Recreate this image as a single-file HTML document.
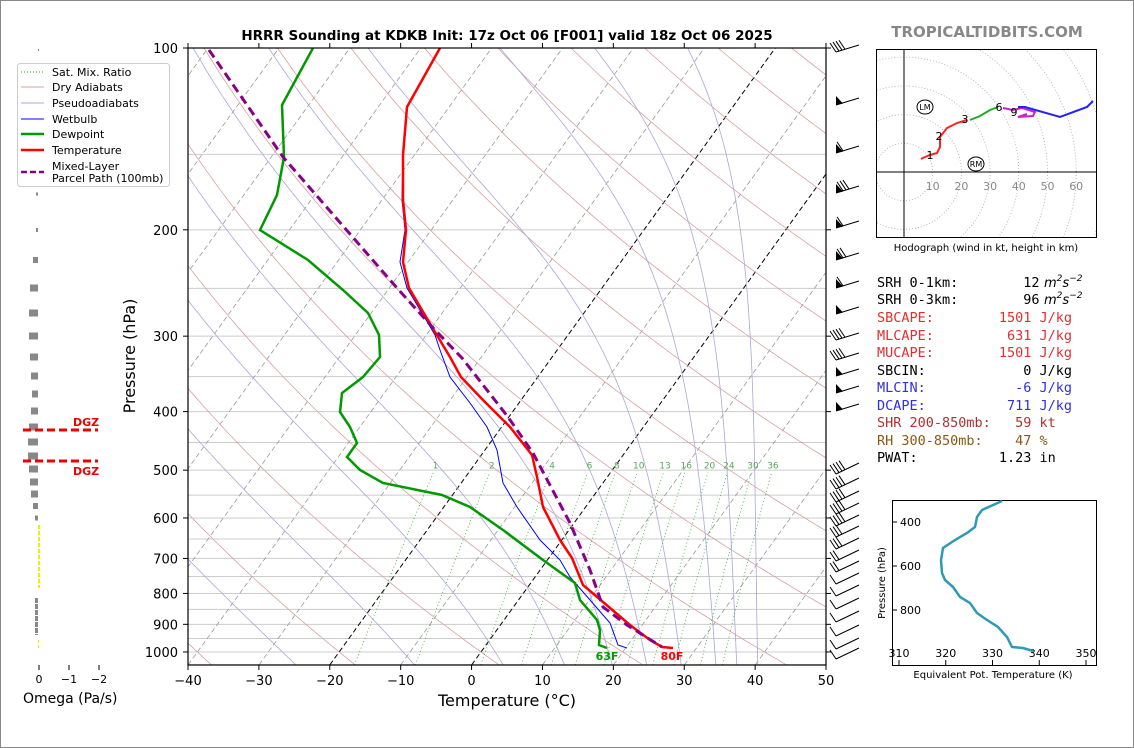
<!DOCTYPE html>
<html><head><meta charset="utf-8"><style>
html,body{margin:0;padding:0;background:#fff}
svg{display:block}
text{font-family:"DejaVu Sans","Liberation Sans",sans-serif}
text.mono{font-family:"DejaVu Sans Mono","Liberation Mono",monospace}
</style></head><body>
<svg id="s" width="1134" height="748" xmlns="http://www.w3.org/2000/svg">
<rect x="0.5" y="0.5" width="1133" height="747" fill="#fff" stroke="#888"/>
<defs><clipPath id="cp"><rect x="188" y="48" width="638" height="617"/></clipPath>
<clipPath id="ch"><rect x="876" y="49" width="220" height="188"/></clipPath></defs>
<g id="bg" clip-path="url(#cp)"></g>
<g id="fg"></g>
<text x="507" y="40" font-size="13.5" font-weight="bold" text-anchor="middle">HRRR Sounding at KDKB Init: 17z Oct 06 [F001] valid 18z Oct 06 2025</text>
<text x="987" y="37" font-size="15" font-weight="bold" fill="#888" text-anchor="middle">TROPICALTIDBITS.COM</text>
<text x="507" y="706" font-size="16" text-anchor="middle">Temperature (°C)</text>
<text transform="translate(135,356) rotate(-90)" font-size="16" text-anchor="middle">Pressure (hPa)</text>
<!-- legend -->
<rect x="17.5" y="63.5" width="152" height="123" rx="3" fill="#fff" stroke="#ccc"/>
<line x1="21" y1="72" x2="44" y2="72" stroke="#2a2" stroke-dasharray="1,2" stroke-width="1"/>
<line x1="21" y1="87" x2="44" y2="87" stroke="#d9a0a0"/>
<line x1="21" y1="103" x2="44" y2="103" stroke="#a8a8d8"/>
<line x1="21" y1="119" x2="44" y2="119" stroke="#00f"/>
<line x1="21" y1="134" x2="44" y2="134" stroke="#090" stroke-width="2.5"/>
<line x1="21" y1="150" x2="44" y2="150" stroke="#f00" stroke-width="2.5"/>
<line x1="21" y1="172" x2="44" y2="172" stroke="#808" stroke-width="2.5" stroke-dasharray="6,3"/>
<g font-size="11">
<text x="52" y="76">Sat. Mix. Ratio</text><text x="52" y="91">Dry Adiabats</text><text x="52" y="107">Pseudoadiabats</text>
<text x="52" y="123">Wetbulb</text><text x="52" y="138">Dewpoint</text><text x="52" y="154">Temperature</text>
<text x="52" y="170">Mixed-Layer</text><text x="52" y="182">Parcel Path (100mb)</text></g>
<!-- omega -->
<g font-size="11"><text x="39" y="683" text-anchor="middle">0</text><text x="69" y="683" text-anchor="middle">−1</text><text x="99" y="683" text-anchor="middle">−2</text></g>
<text x="23" y="703" font-size="14">Omega (Pa/s)</text>
<g stroke="#000"><line x1="39" y1="665" x2="39" y2="670"/><line x1="69" y1="665" x2="69" y2="670"/><line x1="99" y1="665" x2="99" y2="670"/></g>
<g stroke="#e00" stroke-width="3" stroke-dasharray="8,4"><line x1="23" y1="430" x2="98" y2="430"/><line x1="23" y1="461" x2="98" y2="461"/></g>
<g font-size="11" font-weight="bold" fill="#e00"><text x="73" y="426">DGZ</text><text x="73" y="475">DGZ</text></g>
<!-- text panel -->
<g font-size="13.5">
<text class="mono" x="877" y="287" fill="#000" xml:space="preserve">SRH 0-1km:        12</text>
<text class="mono" x="877" y="304" fill="#000" xml:space="preserve">SRH 0-3km:        96</text>
<text class="mono" x="877" y="322" fill="#e03030" xml:space="preserve">SBCAPE:        1501 J/kg</text>
<text class="mono" x="877" y="340" fill="#e03030" xml:space="preserve">MLCAPE:         631 J/kg</text>
<text class="mono" x="877" y="357" fill="#e03030" xml:space="preserve">MUCAPE:        1501 J/kg</text>
<text class="mono" x="877" y="375" fill="#000" xml:space="preserve">SBCIN:            0 J/kg</text>
<text class="mono" x="877" y="392" fill="#3030e0" xml:space="preserve">MLCIN:           -6 J/kg</text>
<text class="mono" x="877" y="410" fill="#3030e0" xml:space="preserve">DCAPE:          711 J/kg</text>
<text class="mono" x="877" y="427" fill="#b03030" xml:space="preserve">SHR 200-850mb:   59 kt</text>
<text class="mono" x="877" y="445" fill="#8b5a10" xml:space="preserve">RH 300-850mb:    47 %</text>
<text class="mono" x="877" y="462" fill="#000" xml:space="preserve">PWAT:          1.23 in</text>
</g>
<g font-size="13" font-style="italic"><text x="1044" y="287">m<tspan font-size="9" dy="-6">2</tspan><tspan dy="6">s</tspan><tspan font-size="9" dy="-6">−2</tspan></text>
<text x="1044" y="304">m<tspan font-size="9" dy="-6">2</tspan><tspan dy="6">s</tspan><tspan font-size="9" dy="-6">−2</tspan></text></g>
<!-- hodograph -->
<g id="hodo" clip-path="url(#ch)"></g>
<rect x="876.5" y="49.5" width="220" height="188" fill="none" stroke="#000"/>
<text x="986" y="251" font-size="10" text-anchor="middle">Hodograph (wind in kt, height in km)</text>
<!-- theta-e inset -->
<rect x="892.5" y="500.5" width="204" height="165" fill="none" stroke="#000"/>
<g id="inset"></g>
<text x="993" y="678" font-size="10" text-anchor="middle">Equivalent Pot. Temperature (K)</text>
<text transform="translate(885,583) rotate(-90)" font-size="10" text-anchor="middle">Pressure (hPa)</text>
</svg>
<script>
var NS="http://www.w3.org/2000/svg";
function el(par,tag,a,txt){var e=document.createElementNS(NS,tag);for(var k in a)e.setAttribute(k,a[k]);if(txt!=null)e.textContent=txt;par.appendChild(e);return e;}
var bg=document.getElementById('bg'),fg=document.getElementById('fg');
function Y(p){return 48+262.3*Math.log(p/100);}
function X(T,p){return 188+(T+40)*7.089+(665-Y(p))*0.722;}
function pts(a){return a.map(function(q){return q[0].toFixed(1)+','+q[1].toFixed(1)}).join(' ');}
for(var p=100;p<=1050;p+=50){el(bg,'line',{x1:188,x2:826,y1:Y(p),y2:Y(p),stroke:'#ccc','stroke-width':1});}
for(var T=-140;T<=50;T+=10){var a=[[X(T,1050),Y(1050)],[X(T,100),Y(100)]];
 var blk=(T==0||T==-20);el(bg,'polyline',{points:pts(a),fill:'none',stroke:blk?'#000':'#999','stroke-width':blk?1:0.8,'stroke-dasharray':'5,3'});}
for(var t0=-60;t0<=240;t0+=20){var th=t0+273.15,a=[];for(var p=1050;p>=100;p-=10){a.push([X(th*Math.pow(p/1000,0.2857)-273.15,p),Y(p)]);}
 el(bg,'polyline',{points:pts(a),fill:'none',stroke:'#d9a0a0','stroke-width':0.8});}
function es(T){return 6.112*Math.exp(17.67*T/(T+243.5));}
function dTdp(T,p){var Tk=T+273.15,rs=0.622*es(T)/(p-es(T));var Lv=2.501e6,Rd=287,Cp=1005;
 return (1/p)*(Rd*Tk+Lv*rs)/(Cp+Lv*Lv*rs*0.622/(Rd*Tk*Tk));}
[-45,-28,-11,2,11,18,23,28,33,36,39].forEach(function(t0){var a=[],T=t0,p;
 var b=[];var T2=t0;for(var pp=1000;pp<=1050;pp+=5){b.unshift([X(T2,pp),Y(pp)]);T2+=dTdp(T2,pp)*5;}
 a=b.slice(0,-1);for(p=1000;p>=100;p-=5){a.push([X(T,p),Y(p)]);T-=dTdp(T,p)*5;}
 el(bg,'polyline',{points:pts(a),fill:'none',stroke:'#a8a8d8','stroke-width':0.8});});
[1,2,4,6,8,10,13,16,20,24,30,36].forEach(function(w){var a=[];for(var p=1050;p>=505;p-=5){var e=w*p/(622+w),l=Math.log(e/6.112);var Td=243.5*l/(17.67-l);a.push([X(Td,p),Y(p)]);}
 el(bg,'polyline',{points:pts(a),fill:'none',stroke:'#3a3','stroke-width':0.8,'stroke-dasharray':'1,2.5'});
 var e=w*495/(622+w),l=Math.log(e/6.112),Td=243.5*l/(17.67-l);el(bg,'text',{x:X(Td,495),y:Y(495)+1,'font-size':9,fill:'#5a5','text-anchor':'middle'},String(w));});
var Tp=[[440,48],[407,107],[403,155],[403,200],[406,230],[403,262],[409,288],[432,327],[450,357],[461,377],[483,400],[510,427],[532,455],[537,477],[543,507],[560,540],[572,558],[583,585],[603,602],[630,625],[650,640],[662,647],[673,648]];
var Dp=[[313,48],[282,105],[284,157],[277,195],[260,230],[308,260],[343,290],[368,313],[379,335],[380,357],[363,377],[342,393],[340,412],[350,427],[357,443],[347,457],[360,470],[383,483],[442,495],[470,507],[503,530],[543,560],[575,583],[580,600],[597,620],[600,630],[599,645],[607,648]];
var Wp=[[407,107],[403,155],[402,200],[405,230],[400,262],[407,288],[435,335],[440,350],[450,377],[470,403],[487,427],[497,450],[503,483],[517,507],[540,540],[560,560],[570,577],[590,600],[610,623],[618,645],[627,648]];
var Pp=[[209,50],[283,157],[397,288],[435,330],[462,358],[508,417],[533,453],[570,523],[590,570],[603,607],[627,625],[662,647]];
var g=el(fg,'g',{'clip-path':'url(#cp)'});
el(g,'polyline',{points:pts(Wp),fill:'none',stroke:'#00f','stroke-width':1});
el(g,'polyline',{points:pts(Dp),fill:'none',stroke:'#090','stroke-width':2.5});
el(g,'polyline',{points:pts(Tp),fill:'none',stroke:'#f00','stroke-width':2.5});
el(g,'polyline',{points:pts(Pp),fill:'none',stroke:'#808','stroke-width':3,'stroke-dasharray':'9,5'});
el(fg,'text',{x:607,y:660,'font-size':11,'font-weight':'bold',fill:'#090','text-anchor':'middle'},'63F');
el(fg,'text',{x:672,y:660,'font-size':11,'font-weight':'bold',fill:'#f00','text-anchor':'middle'},'80F');
el(fg,'rect',{x:188,y:48,width:638,height:617,fill:'none',stroke:'#000','stroke-width':1.2});
for(var T=-40;T<=50;T+=10){var x=188+(T+40)*7.089;el(fg,'line',{x1:x,x2:x,y1:665,y2:670,stroke:'#000'});
 el(fg,'line',{x1:x,x2:x,y1:48,y2:43,stroke:'#000'});
 el(fg,'text',{x:x,y:685,'font-size':13,'text-anchor':'middle'},(T<0?'−'+(-T):T));}
[100,200,300,400,500,600,700,800,900,1000].forEach(function(p){var y=Y(p);el(fg,'line',{x1:183,x2:188,y1:y,y2:y,stroke:'#000'});
 el(fg,'line',{x1:826,x2:831,y1:y,y2:y,stroke:'#000'});
 el(fg,'text',{x:178,y:y+5,'font-size':13,'text-anchor':'end'},p);});
var B=[[48,'4'],[105,'F'],[153,'F1'],[193,'F3'],[228,'F1'],[260,'F2'],[288,'F1'],[314,'F'],[336,'4'],[356,'4'],[376,'F'],[393,'F'],[411,'F'],[470,'4'],[485,'4'],[498,'4'],[510,'4'],[522,'4'],[533,'3'],[545,'3'],[557,'2'],[568,'2'],[580,'1'],[592,'1'],[605,'1'],[618,'1'],[632,'1'],[645,'1'],[655,'1']];
B.forEach(function(b){var y=b[1][0]=='F'?b[0]:b[0]+4,k=b[1];var x0=836,dy=(y<420)?-7:-11;
 el(fg,'line',{x1:x0,y1:y,x2:859,y2:y+dy,stroke:'#000','stroke-width':1});
 var n=0,st=0;if(k[0]=='F'){el(fg,'polygon',{points:x0+','+y+' '+(x0+7)+','+(y-1.5)+' '+x0+','+(y-9),fill:'#000'});n=k.length>1?+k[1]:0;st=7;}else{n=+k;}
 for(var i=0;i<n;i++){var sx=x0+st+i*3,sy=y+(dy/23)*(st+i*3);el(fg,'line',{x1:sx,y1:sy,x2:sx-6,y2:sy-9,stroke:'#000','stroke-width':1});}});
var O=[[50,38,39,2],[194,36,38,3],[230,36,38,4],[260,33,38,6],[288,30,38,7],[313,29,38,7],[336,29,38,7],[357,30,38,7],[376,31,38,7],[394,32,38,7],[411,31,38,7],[427,29,38,7],[442,28,38,7],[456,28,38,7],[469,29,38,7],[482,30,38,7],[494,31,38,7],[506,33,38,6],[518,35,38,5]];
O.forEach(function(o){el(fg,'rect',{x:o[1],y:o[0]-o[3]/2,width:o[2]-o[1],height:o[3],fill:'#888'});});
el(fg,'line',{x1:39,y1:525,x2:39,y2:588,stroke:'#ee0','stroke-width':2,'stroke-dasharray':'4,2'});
el(fg,'line',{x1:36.5,y1:598,x2:36.5,y2:635,stroke:'#888','stroke-width':3,'stroke-dasharray':'5,1'});
el(fg,'line',{x1:38.5,y1:640,x2:38.5,y2:650,stroke:'#ee0','stroke-width':1,'stroke-dasharray':'3,2'});
var h=document.getElementById('hodo');var ox=904,oy=172,sc=2.87;
for(var r=10;r<=90;r+=10)el(h,'circle',{cx:ox,cy:oy,r:r*sc,fill:'none',stroke:'#aaa','stroke-width':0.8,'stroke-dasharray':'1,2'});
el(h,'line',{x1:876,x2:1096,y1:oy,y2:oy,stroke:'#000'});el(h,'line',{x1:ox,x2:ox,y1:49,y2:237,stroke:'#000'});
for(var r=10;r<=60;r+=10)el(h,'text',{x:ox+r*sc,y:oy+18,'font-size':11,fill:'#888','text-anchor':'middle'},r);
el(h,'polyline',{points:pts([[921,159],[925,157],[930,155],[937,153],[940,147],[940,137],[947,128],[957,123],[967,120]]),fill:'none',stroke:'#f22','stroke-width':2});
el(h,'polyline',{points:pts([[970,120],[980,116],[990,110],[998,107]]),fill:'none',stroke:'#2a2','stroke-width':2});
el(h,'polyline',{points:pts([[1003,108],[1013,110],[1022,108],[1035,112],[1033,116],[1018,117],[1027,114]]),fill:'none',stroke:'#c2c','stroke-width':2});
el(h,'polyline',{points:pts([[1018,107],[1025,107],[1060,117],[1087,107],[1093,101]]),fill:'none',stroke:'#22f','stroke-width':2});
[[930,155,'1'],[939,136,'2'],[965,119,'3'],[999,107,'6'],[1014,112,'9']].forEach(function(q){el(h,'text',{x:q[0],y:q[1]+4,'font-size':11,'text-anchor':'middle'},q[2]);});
el(h,'ellipse',{cx:925,cy:107,rx:8,ry:7,fill:'none',stroke:'#000'});el(h,'text',{x:925,y:110,'font-size':8,'text-anchor':'middle'},'LM');
el(h,'ellipse',{cx:976,cy:164,rx:8,ry:7,fill:'none',stroke:'#000'});el(h,'text',{x:976,y:167,'font-size':8,'text-anchor':'middle'},'RM');
var ins=document.getElementById('inset');
[310,320,330,340,350].forEach(function(v){var x=899+(v-310)*4.675;el(ins,'line',{x1:x,x2:x,y1:665,y2:660,stroke:'#000'});el(ins,'text',{x:x,y:657,'font-size':11,'text-anchor':'middle'},v);});
[400,600,800].forEach(function(p){var y=434+0.22*p;el(ins,'line',{x1:892,x2:897,y1:y,y2:y,stroke:'#000'});el(ins,'text',{x:900,y:y+4,'font-size':11},p);});
el(ins,'polyline',{points:pts([[1002,501],[982,510],[977,517],[975,527],[967,533],[955,540],[943,548],[941,560],[942,573],[945,580],[953,587],[960,597],[970,603],[977,613],[987,620],[998,627],[1007,637],[1012,647],[1023,648],[1033,651]]),fill:'none',stroke:'#2e9ab5','stroke-width':2.5});
</script>
</body></html>
